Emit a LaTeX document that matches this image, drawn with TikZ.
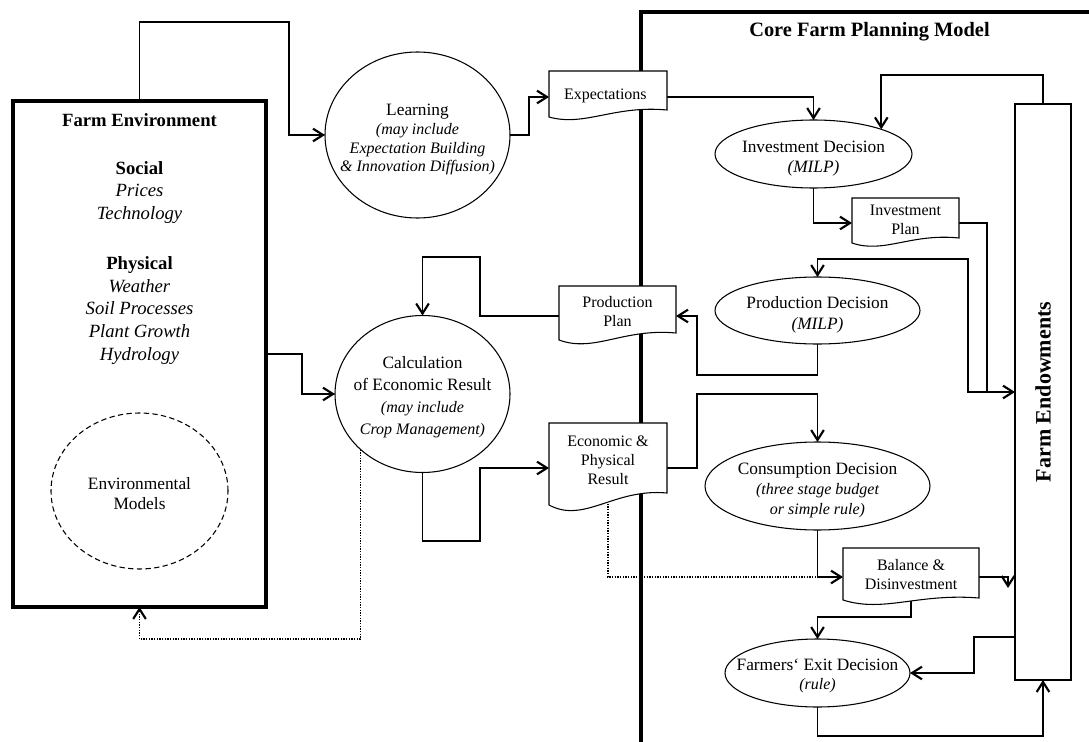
\documentclass[tikz,border=0pt]{standalone}
\usepackage{fontspec}
\setmainfont{Liberation Serif}
\usetikzlibrary{arrows.meta,calc,shapes.geometric}
\pgfdeclarelayer{wires}
\pgfdeclarelayer{docs}
\pgfsetlayers{wires,docs,main}

% italic sub-line inside a node
\newcommand\itl[1]{{\fontsize{12}{14}\selectfont\itshape #1}}

% document symbol: flat top, wavy bottom; #1 node, #2 width, #3 left drop, #4 wave depth
\newcommand\docshape[4]{%
  \begin{pgfonlayer}{docs}
  \draw[docline] (#1.south east) -- (#1.north east) -- (#1.north west)
    -- ($(#1.south west)+(0,#3)$)
    .. controls ($(#1.south west)+(0.3*#2,#4)$) and ($(#1.south east)+(-0.45*#2,-5)$) .. (#1.south east)
    -- cycle;
  \end{pgfonlayer}}

\tikzset{
  every node/.style={inner sep=0pt, outer sep=0pt},
  conn/.style={line width=1.2pt, -{Straight Barb[length=7.5pt,width=9.5pt,line width=1.6pt]}},
  dotconn/.style={line width=1pt, densely dotted, -{Straight Barb[length=7.5pt,width=9.5pt,line width=1.6pt]}},
  dotline/.style={line width=1pt, densely dotted},
  frame/.style={line width=2.4pt},
  envbox/.style={rectangle, draw, line width=2.4pt, fill=white},
  decell/.style={ellipse, draw, line width=0.8pt, fill=white},
  modell/.style={ellipse, draw, line width=0.8pt, dashed, dash pattern=on 4pt off 2.5pt},
  docline/.style={line width=0.8pt, fill=white},
  doctext/.style={rectangle, align=center, font=\fontsize{12}{14.25}\selectfont},
  doclabel/.style={align=center, font=\fontsize{12}{14.25}\selectfont, yshift=-1.5pt},
  eltext/.style={align=center, font=\fontsize{13}{15}\selectfont, yshift=-3pt},
  endbox/.style={rectangle, draw, line width=0.8pt, fill=white},
}

\begin{document}
\begin{tikzpicture}[x=0.75pt, y=-0.75pt]
\useasboundingbox (0,0) rectangle (1089,742);

% ---------- farm environment ----------
\node[envbox, minimum width=253*0.75pt, minimum height=506*0.75pt] (fenv) at (139.5,354) {};
\node[font=\fontsize{14}{17}\selectfont\bfseries] (fenvtitle) at (139.5,120) {Farm Environment};
\node[align=center, font=\fontsize{14}{17}\selectfont] (social) at (139.5,192.5)
  {\textbf{Social}\\\textit{Prices}\\\textit{Technology}};
\node[align=center, font=\fontsize{14}{17}\selectfont] (physical) at (139.5,310.5)
  {\textbf{Physical}\\\textit{Weather}\\\textit{Soil Processes}\\\textit{Plant Growth}\\\textit{Hydrology}};
\node[modell, minimum width=177*0.75pt, minimum height=156*0.75pt] (envm) at (139.5,491) {};
\node[eltext, yshift=1pt] (envmtxt) at (envm) {Environmental\\Models};

% ---------- learning and calculation ----------
\node[decell, minimum width=185*0.75pt, minimum height=166*0.75pt] (learn) at (417.5,135) {};
\node[align=center, font=\fontsize{13}{14}\selectfont, yshift=-3.5pt] (learntxt) at (learn)
  {Learning\\\itl{(may include}\\\itl{Expectation Building}\\\itl{\& Innovation Diffusion)}};

\node[decell, minimum width=175*0.75pt, minimum height=157*0.75pt] (calc) at (422.5,394) {};
\node[align=center, font=\fontsize{13}{16.5}\selectfont, yshift=-2.5pt] (calctxt) at (calc)
  {Calculation\\of Economic Result\\\itl{(may include}\\\itl{Crop Management)}};

% ---------- document boxes ----------
\node[rectangle, minimum width=118*0.75pt, minimum height=39*0.75pt] (expect) at (608,90.5) {};
\node[rectangle, minimum width=107*0.75pt, minimum height=40*0.75pt] (iplan) at (905.5,218) {};
\node[rectangle, minimum width=117*0.75pt, minimum height=47*0.75pt] (pplan) at (617.5,309.5) {};
\node[rectangle, minimum width=118*0.75pt, minimum height=70*0.75pt] (econ) at (608,458) {};
\node[rectangle, minimum width=136*0.75pt, minimum height=50*0.75pt] (bal) at (911,573) {};
\docshape{expect}{118}{7}{17}
\docshape{iplan}{107}{5}{16}
\docshape{pplan}{117}{7}{20}
\docshape{econ}{118}{12}{31}
\docshape{bal}{136}{2}{15}
\node[doclabel, yshift=-2.5pt, xshift=-2pt] (expecttxt) at (expect) {Expectations};
\node[doclabel] (iplantxt) at (iplan) {Investment\\Plan};
\node[doclabel] (pplantxt) at (pplan) {Production\\Plan};
\node[doclabel] (econtxt) at (econ) {Economic \&\\Physical\\Result};
\node[doclabel, yshift=0.5pt] (baltxt) at (bal) {Balance \&\\Disinvestment};

% ---------- core farm planning model ----------
\node[font=\fontsize{15.3}{18}\selectfont\bfseries] (core) at (869.5,32) {Core Farm Planning Model};

\node[decell, minimum width=197*0.75pt, minimum height=68*0.75pt] (inv) at (813.5,154) {};
\node[eltext, yshift=-0.5pt] (invtxt) at (inv) {Investment Decision\\\textit{(MILP)}};

\node[decell, minimum width=205*0.75pt, minimum height=67*0.75pt] (pdec) at (817.5,310.5) {};
\node[eltext, font=\fontsize{13}{16}\selectfont] (pdectxt) at (pdec) {Production Decision\\\textit{(MILP)}};

\node[decell, minimum width=225*0.75pt, minimum height=88*0.75pt] (cons) at (817.5,486) {};
\node[eltext] (constxt) at (cons) {Consumption Decision\\\itl{(three stage budget}\\\itl{or simple rule)}};

\node[decell, minimum width=185*0.75pt, minimum height=68*0.75pt] (exit) at (817.5,673) {};
\node[eltext, font=\fontsize{13}{14}\selectfont, yshift=1pt] (exittxt) at (exit) {Farmers` Exit Decision\\\itl{(rule)}};

\node[endbox, minimum width=56*0.75pt, minimum height=576*0.75pt] (end) at (1043,392) {};
\node[rotate=90, font=\fontsize{16.5}{19}\selectfont\bfseries] (endtxt) at (end) {Farm Endowments};

\coordinate (balin) at (1008,588);

% ---------- frame and connectors ----------
\begin{pgfonlayer}{wires}
\draw[frame] (1100,12) -| (641,760);

\draw[conn] (fenv.north) |- (289,22) |- (learn.west);
\draw[conn] (learn.east) -| (529,97) -- (expect.west |- 0,97);
\draw[conn] (expect.east |- 0,97) -| (inv.north);
\draw[conn] (end.north) |- (inv.20 |- 0,75) -- (inv.20);
\draw[conn] (inv.south) |- (iplan.west |- 0,223);
\draw[conn] (iplan.east |- 0,223) -| (987,392) -- (end.west);
\draw[conn] (end.west) -| (968,259) -| (pdec.north);
\draw[conn] (pdec.south) |- (697,375) |- (pplan.east |- 0,316);
\draw[conn] (pplan.west |- 0,316) -| (480,257) -| (calc.north);
\draw[conn] (fenv.east) -| (302,394) -- (calc.west);
\draw[conn] (calc.south) |- (480,541) |- (econ.west |- 0,468);
\draw[dotconn] (calc.south west) |- (fenv.south |- 0,639) -- (fenv.south);
\draw[conn] (econ.east |- 0,468) -| (697,394) -| (cons.north);
\draw[dotline] (econ.south) |- (cons.south |- 0,577);
\draw[conn] (cons.south) |- (bal.west |- 0,577);
\draw[conn] (bal.east |- 0,577) -- (balin |- 0,577) -- (balin);
\draw[conn] (bal.south) |- (exit.north |- 0,617) -- (exit.north);
\draw[conn] (end.west |- 0,637) -| (974,673) -- (exit.east);
\draw[conn] (exit.south) |- (end.south |- 0,736) -- (end.south);
\end{pgfonlayer}
\end{tikzpicture}
\end{document}
